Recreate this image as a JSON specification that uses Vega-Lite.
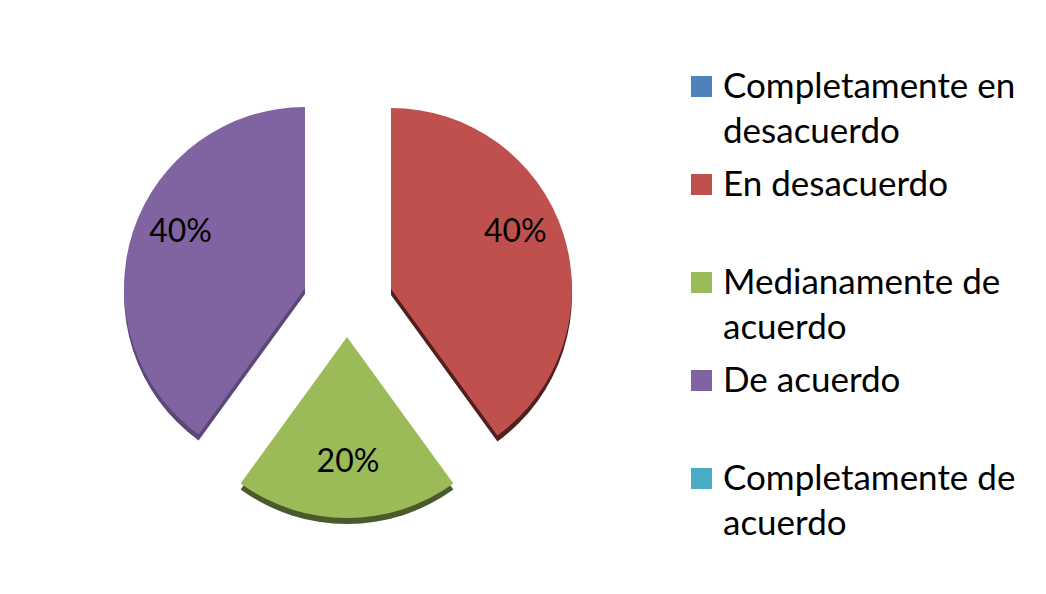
{
  "$schema": "https://vega.github.io/schema/vega-lite/v6.json",
  "width": 682,
  "height": 588,
  "autosize": {"type": "none"},
  "padding": {"left": 7, "top": 6, "right": 357, "bottom": 0},
  "background": "white",
  "config": {
    "view": {"stroke": null},
    "font": "Lato",
    "style": {"guide-label": {"lineHeight": 45}}
  },
  "data": {
    "values": [
      {"orden": 1, "categoria": "Completamente en desacuerdo", "proporcion": 0},
      {"orden": 2, "categoria": "En desacuerdo", "proporcion": 0.4},
      {"orden": 3, "categoria": "Medianamente de acuerdo", "proporcion": 0.2},
      {"orden": 4, "categoria": "De acuerdo", "proporcion": 0.4},
      {"orden": 5, "categoria": "Completamente de acuerdo", "proporcion": 0}
    ]
  },
  "transform": [
    {"stack": "proporcion", "groupby": [], "sort": [{"field": "orden", "order": "ascending"}], "as": ["inicio", "fin"]}
  ],
  "layer": [
    {
      "transform": [{"filter": "datum.categoria === 'En desacuerdo'"}],
      "mark": {"type": "arc", "radius": 181, "xOffset": 43, "yOffset": -5, "color": "#4f201e"},
      "encoding": {
        "theta": {"field": "inicio", "type": "quantitative", "scale": {"domain": [0, 1]}},
        "theta2": {"field": "fin"}
      }
    },
    {
      "transform": [{"filter": "datum.categoria === 'Medianamente de acuerdo'"}],
      "mark": {"type": "arc", "radius": 181, "xOffset": -1, "yOffset": 43, "color": "#4b5a2a"},
      "encoding": {
        "theta": {"field": "inicio", "type": "quantitative", "scale": {"domain": [0, 1]}},
        "theta2": {"field": "fin"}
      }
    },
    {
      "transform": [{"filter": "datum.categoria === 'De acuerdo'"}],
      "mark": {"type": "arc", "radius": 181, "xOffset": -43, "yOffset": -6, "color": "#5c4878"},
      "encoding": {
        "theta": {"field": "inicio", "type": "quantitative", "scale": {"domain": [0, 1]}},
        "theta2": {"field": "fin"}
      }
    },
    {
      "transform": [{"filter": "datum.categoria === 'En desacuerdo'"}],
      "mark": {"type": "arc", "radius": 181, "xOffset": 43, "yOffset": -11},
      "encoding": {
        "theta": {"field": "inicio", "type": "quantitative", "scale": {"domain": [0, 1]}},
        "theta2": {"field": "fin"},
        "color": {
          "field": "categoria", "type": "nominal",
          "scale": {
            "domain": ["Completamente en desacuerdo", "En desacuerdo", "Medianamente de acuerdo", "De acuerdo", "Completamente de acuerdo"],
            "range": ["#4F81BD", "#C0504D", "#9BBB59", "#8064A2", "#4BACC6"]
          },
          "legend": {
            "orient": "none", "legendX": 677, "legendY": 63, "title": null,
            "symbolType": "square", "symbolSize": 441, "symbolStrokeWidth": 0,
            "labelFontSize": 35, "labelFont": "Lato", "labelColor": "black",
            "labelOffset": 4, "labelLimit": 500, "rowPadding": 17, "gridAlign": "all", "padding": 0,
            "labelExpr": "datum.label === 'Completamente en desacuerdo' ? ['Completamente en', 'desacuerdo'] : datum.label === 'Medianamente de acuerdo' ? ['Medianamente de', 'acuerdo'] : datum.label === 'Completamente de acuerdo' ? ['Completamente de', 'acuerdo'] : datum.label"
          }
        }
      }
    },
    {
      "transform": [{"filter": "datum.categoria === 'Medianamente de acuerdo'"}],
      "mark": {"type": "arc", "radius": 181, "xOffset": -1, "yOffset": 37},
      "encoding": {
        "theta": {"field": "inicio", "type": "quantitative", "scale": {"domain": [0, 1]}},
        "theta2": {"field": "fin"},
        "color": {"field": "categoria", "type": "nominal"}
      }
    },
    {
      "transform": [{"filter": "datum.categoria === 'De acuerdo'"}],
      "mark": {"type": "arc", "radius": 181, "xOffset": -43, "yOffset": -12},
      "encoding": {
        "theta": {"field": "inicio", "type": "quantitative", "scale": {"domain": [0, 1]}},
        "theta2": {"field": "fin"},
        "color": {"field": "categoria", "type": "nominal"}
      }
    },
    {
      "transform": [{"filter": "datum.proporcion > 0"}],
      "mark": {"type": "text", "radius": 176, "yOffset": -14, "fontSize": 32, "font": "Lato", "color": "black"},
      "encoding": {
        "theta": {"field": "proporcion", "type": "quantitative", "stack": true, "scale": {"domain": [0, 1]}},
        "order": {"field": "orden", "type": "quantitative"},
        "text": {"field": "proporcion", "type": "quantitative", "format": ".0%"}
      }
    }
  ]
}
